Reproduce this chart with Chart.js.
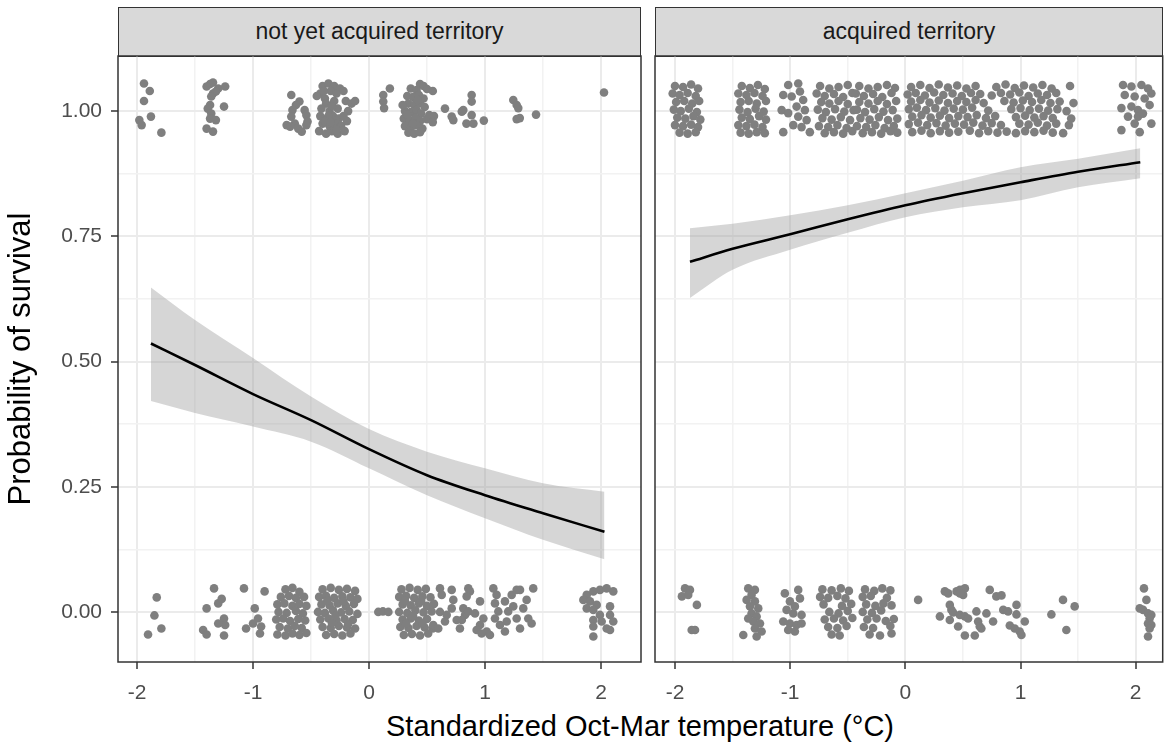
<!DOCTYPE html>
<html>
<head>
<meta charset="utf-8">
<script src="https://cdn.jsdelivr.net/npm/chart.js@4"></script>
<style>
    body { margin: 0; background: #fff; width: 1167px; height: 746px; position: relative; overflow: hidden; font-family: "Liberation Sans", Arial, sans-serif; }
    .strip { position: absolute; top: 7px; height: 50px; box-sizing: border-box; background: #d9d9d9; border: 1.5px solid #333; color: #1a1a1a; font-size: 23px; line-height: 47px; text-align: center; }
    .panel { position: absolute; top: 50px; height: 656px; }
    .xtitle { position: absolute; left: 140px; width: 1000px; top: 710px; font-size: 29px; line-height: 32px; text-align: center; color: #000; }
</style>
</head>
<body>
<div class="strip" style="left:118px;width:523px">not yet acquired territory</div>
<div class="strip" style="left:655px;width:508px">acquired territory</div>
<div class="panel" style="left:0;width:650px"><canvas id="graficoEsquerda"></canvas></div>
<div class="panel" style="left:649px;width:518px"><canvas id="graficoDireita"></canvas></div>
<div class="xtitle">Standardized Oct-Mar temperature (°C)</div>
<script>
const xMajor = [-2, -1, 0, 1, 2];
const xLabels = ['-2', '-1', '0', '1', '2'];
const xMinor = [-1.5, -0.5, 0.5, 1.5];
const yMajor = [0, 0.25, 0.5, 0.75, 1];
const yLabels = ['0.00', '0.25', '0.50', '0.75', '1.00'];
const yMinor = [0.125, 0.375, 0.625, 0.875];

// fitted curve + ribbon
const curveXLeft = [-1.88, -1.5, -1, -0.5, 0, 0.5, 1, 1.5, 2.03];
const fitLeft = [0.536, 0.493, 0.435, 0.383, 0.325, 0.273, 0.233, 0.197, 0.160];
const upperLeft = [0.648, 0.583, 0.507, 0.430, 0.365, 0.320, 0.287, 0.257, 0.240];
const lowerLeft = [0.421, 0.397, 0.370, 0.340, 0.287, 0.233, 0.187, 0.144, 0.105];

const curveXRight = [-1.87, -1.5, -1, -0.5, 0, 0.5, 1, 1.5, 2.04];
const fitRight = [0.699, 0.725, 0.754, 0.784, 0.812, 0.836, 0.858, 0.879, 0.898];
const upperRight = [0.766, 0.775, 0.792, 0.812, 0.836, 0.861, 0.888, 0.905, 0.926];
const lowerRight = [0.627, 0.683, 0.723, 0.757, 0.788, 0.808, 0.822, 0.848, 0.866];

// jittered observations [temperature, survival]
const survivedNotYet = [
    [-1.94,1.055],[-1.89,1.04],[-1.94,1.02],[-1.98,0.982],[-1.96,0.972],[-1.88,0.989],[-1.79,0.957],
    [-1.37,1.054],[-1.345,1.057],[-1.40,1.049],[-1.30,1.045],[-1.24,1.049],[-1.345,1.035],[-1.32,1.039],[-1.36,1.029],
    [-1.37,1.012],[-1.39,1.005],[-1.25,1.009],[-1.36,0.995],[-1.32,0.982],[-1.37,0.985],[-1.40,0.965],[-1.345,0.959],
    [-0.67,1.032],[-0.60,1.019],[-0.63,1.012],[-0.66,1.002],[-0.67,0.989],[-0.555,1.002],[-0.54,0.992],[-0.53,0.979],
    [-0.64,0.975],[-0.71,0.972],[-0.68,0.969],[-0.61,0.965],[-0.58,0.959],[-0.54,0.972],
    [-0.40,1.05],[-0.35,1.055],[-0.30,1.05],[-0.25,1.045],[-0.42,1.035],[-0.33,1.04],[-0.28,1.035],[-0.22,1.04],[-0.38,1.025],[-0.45,1.03],
    [-0.37,1.015],[-0.30,1.02],[-0.20,1.02],[-0.15,1.015],[-0.12,1.02],[-0.41,1.005],[-0.34,1.0],[-0.27,1.005],[-0.18,1.0],
    [-0.42,0.99],[-0.36,0.985],[-0.31,0.99],[-0.26,0.985],[-0.22,0.99],[-0.40,0.975],[-0.34,0.97],[-0.29,0.975],[-0.24,0.97],[-0.19,0.98],
    [-0.43,0.96],[-0.37,0.955],[-0.32,0.96],[-0.27,0.955],[-0.21,0.96],[-0.35,0.99],[-0.30,0.965],
    [-0.38,0.98],[-0.33,0.978],[-0.28,0.962],[-0.39,1.04],[-0.32,1.01],
    [0.123,1.032],[0.123,1.019],[0.13,1.006],[0.18,1.045],
    [0.44,1.054],[0.47,1.05],[0.36,1.045],[0.41,1.042],[0.50,1.044],[0.55,1.04],
    [0.33,1.03],[0.38,1.028],[0.43,1.032],[0.47,1.025],[0.34,1.015],[0.39,1.012],[0.44,1.016],[0.48,1.008],
    [0.31,1.0],[0.36,0.998],[0.41,1.002],[0.45,0.995],[0.52,0.992],[0.56,0.99],
    [0.30,0.985],[0.35,0.982],[0.40,0.986],[0.44,0.98],[0.50,0.984],[0.55,0.978],
    [0.31,0.97],[0.36,0.967],[0.41,0.972],[0.46,0.965],[0.34,0.957],[0.39,0.955],[0.44,0.958],[0.29,1.012],
    [0.38,0.975],[0.33,0.993],[0.42,1.022],
    [0.655,1.005],[0.713,0.989],[0.727,0.982],[0.80,0.999],[0.813,1.002],[0.885,1.032],[0.885,1.019],[0.885,0.992],
    [0.84,0.975],[0.90,0.975],[0.99,0.981],[1.244,1.022],[1.273,1.012],[1.287,1.006],[1.273,0.984],[1.30,0.986],[1.44,0.993],
    [2.026,1.037]
];

const diedNotYet = [
    [-1.83,0.029],[-1.85,-0.007],[-1.79,-0.033],[-1.905,-0.045],
    [-1.336,0.047],[-1.30,0.017],[-1.27,0.026],[-1.40,0.007],[-1.25,-0.013],[-1.24,-0.026],[-1.30,-0.023],[-1.43,-0.036],[-1.40,-0.045],[-1.25,-0.047],
    [-1.078,0.047],[-0.90,0.041],[-0.985,0.007],[-1.06,-0.033],[-1.0,-0.023],[-0.957,-0.013],[-0.93,-0.029],[-0.94,-0.043],
    [-0.72,0.045],[-0.66,0.048],[-0.60,0.04],[-0.76,0.03],[-0.69,0.032],[-0.63,0.028],[-0.56,0.03],
    [-0.79,0.015],[-0.73,0.017],[-0.66,0.012],[-0.60,0.016],[-0.54,0.012],[-0.78,0.0],[-0.71,-0.002],[-0.63,0.002],[-0.57,-0.003],
    [-0.80,-0.015],[-0.74,-0.013],[-0.68,-0.018],[-0.61,-0.014],[-0.55,-0.017],[-0.77,-0.03],[-0.70,-0.033],[-0.64,-0.028],[-0.58,-0.032],
    [-0.79,-0.045],[-0.72,-0.047],[-0.66,-0.043],[-0.60,-0.046],[-0.54,-0.042],
    [-0.40,0.045],[-0.33,0.048],[-0.26,0.044],[-0.19,0.046],[-0.12,0.042],
    [-0.43,0.03],[-0.37,0.032],[-0.30,0.028],[-0.23,0.031],[-0.16,0.029],[-0.10,0.026],
    [-0.41,0.015],[-0.34,0.013],[-0.27,0.017],[-0.20,0.012],[-0.13,0.016],
    [-0.44,0.0],[-0.38,-0.002],[-0.31,0.003],[-0.24,-0.001],[-0.17,0.001],[-0.10,-0.004],
    [-0.42,-0.015],[-0.35,-0.013],[-0.28,-0.017],[-0.21,-0.014],[-0.14,-0.016],
    [-0.40,-0.03],[-0.33,-0.032],[-0.26,-0.028],[-0.19,-0.031],[-0.12,-0.033],
    [-0.37,-0.046],[-0.30,-0.044],[-0.23,-0.047],[-0.16,-0.043],
    [-0.36,0.022],[-0.29,-0.008],[-0.22,0.021],[-0.32,-0.022],[-0.18,-0.024],
    [0.08,0.0],[0.12,0.001],[0.167,0.0],
    [0.28,0.045],[0.35,0.048],[0.42,0.044],[0.49,0.046],[0.26,0.03],[0.32,0.032],[0.39,0.028],[0.46,0.031],[0.53,0.029],
    [0.29,0.015],[0.36,0.013],[0.43,0.017],[0.50,0.012],[0.56,0.016],[0.26,0.0],[0.33,-0.002],[0.40,0.003],[0.47,-0.001],[0.54,0.001],
    [0.29,-0.015],[0.36,-0.013],[0.43,-0.017],[0.50,-0.014],[0.27,-0.03],[0.34,-0.032],[0.41,-0.028],[0.48,-0.031],[0.55,-0.033],
    [0.30,-0.046],[0.37,-0.044],[0.44,-0.047],[0.51,-0.043],
    [0.31,0.022],[0.38,-0.008],[0.45,0.022],[0.32,-0.023],[0.46,-0.023],
    [0.612,0.047],[0.627,0.034],[0.713,0.044],[0.727,0.024],[0.612,0.0],[0.67,-0.006],[0.713,0.007],[0.756,-0.016],
    [0.554,-0.026],[0.597,-0.033],[0.655,-0.019],[0.784,-0.033],[0.856,0.047],[0.87,0.041],[0.842,0.031],
    [0.813,0.007],[0.828,-0.006],[0.80,-0.016],[0.856,0.001],
    [0.957,0.021],[0.914,-0.003],[0.986,-0.013],[0.957,-0.026],[0.928,-0.036],[1.015,-0.039],[0.971,-0.043],[1.043,-0.046],
    [1.072,0.047],[1.10,0.034],[1.086,0.017],[1.115,0.001],[1.086,-0.013],[1.129,-0.026],[1.172,-0.039],[1.187,-0.019],
    [1.20,0.001],[1.172,0.021],[1.23,0.034],[1.273,0.044],[1.244,0.011],[1.273,-0.013],[1.302,-0.033],[1.33,0.007],
    [1.359,0.024],[1.373,-0.013],[1.402,-0.023],[1.416,0.047],[1.302,0.044],
    [1.877,0.034],[1.934,0.041],[1.991,0.044],[2.049,0.047],[2.106,0.041],[1.848,0.024],[1.905,0.021],[1.963,0.014],
    [1.877,0.007],[1.934,0.004],[2.078,0.011],[1.991,-0.006],[2.078,-0.006],[1.934,-0.016],[2.006,-0.019],[2.106,-0.019],
    [1.934,-0.029],[2.049,-0.033],[2.078,-0.036],[1.934,-0.049]
];

const survivedAcquired = [
    [-2.0,1.05],[-1.93,1.048],[-1.86,1.053],[-1.80,1.045],[-2.02,1.035],[-1.96,1.032],[-1.89,1.036],[-1.82,1.03],
    [-1.99,1.018],[-1.92,1.02],[-1.85,1.015],[-1.79,1.02],[-2.01,1.003],[-1.95,1.0],[-1.88,1.005],[-1.81,0.998],
    [-1.98,0.987],[-1.91,0.985],[-1.84,0.99],[-1.78,0.983],[-2.0,0.972],[-1.93,0.97],[-1.86,0.973],[-1.80,0.968],
    [-1.96,0.957],[-1.89,0.955],[-1.82,0.958],
    [-1.42,1.05],[-1.35,1.046],[-1.28,1.052],[-1.22,1.044],[-1.45,1.035],[-1.38,1.032],[-1.31,1.036],[-1.24,1.03],
    [-1.43,1.018],[-1.36,1.02],[-1.29,1.015],[-1.21,1.02],[-1.44,1.003],[-1.37,0.998],[-1.30,1.005],[-1.23,0.999],
    [-1.42,0.987],[-1.35,0.984],[-1.27,0.99],[-1.21,0.983],[-1.45,0.972],[-1.38,0.97],[-1.31,0.973],[-1.24,0.968],
    [-1.43,0.957],[-1.36,0.955],[-1.29,0.958],[-1.22,0.956],
    [-1.017,1.052],[-0.93,1.055],[-0.915,1.039],[-1.06,1.032],[-0.987,1.029],[-0.887,1.022],[-1.074,1.002],[-1.017,0.996],
    [-0.944,1.009],[-0.872,1.002],[-0.93,0.989],[-0.857,0.982],[-1.06,0.958],[-0.973,0.972],[-0.829,0.958],[-0.901,0.968],
    [-0.74,1.05],[-0.66,1.045],[-0.58,1.048],[-0.50,1.052],[-0.77,1.035],[-0.70,1.03],[-0.62,1.034],[-0.54,1.028],[-0.46,1.036],
    [-0.73,1.018],[-0.66,1.015],[-0.58,1.02],[-0.50,1.014],[-0.76,1.003],[-0.69,0.998],[-0.61,1.004],[-0.53,0.999],[-0.45,1.002],
    [-0.72,0.986],[-0.64,0.983],[-0.56,0.988],[-0.48,0.982],[-0.75,0.97],[-0.67,0.968],[-0.59,0.972],[-0.51,0.966],
    [-0.70,0.956],[-0.62,0.958],[-0.54,0.955],[-0.46,0.96],
    [-0.40,1.05],[-0.32,1.045],[-0.24,1.048],[-0.16,1.052],[-0.09,1.046],[-0.43,1.035],[-0.36,1.03],[-0.28,1.034],[-0.20,1.028],[-0.12,1.036],
    [-0.40,1.018],[-0.32,1.015],[-0.24,1.02],[-0.16,1.014],[-0.08,1.02],[-0.42,1.003],[-0.35,0.998],[-0.27,1.004],[-0.19,0.999],[-0.11,1.002],
    [-0.39,0.986],[-0.31,0.983],[-0.23,0.988],[-0.15,0.982],[-0.07,0.985],[-0.42,0.97],[-0.34,0.968],[-0.26,0.972],[-0.18,0.966],[-0.10,0.97],
    [-0.37,0.956],[-0.29,0.958],[-0.21,0.955],[-0.13,0.96],[-0.07,0.957],
    [0.05,1.048],[0.13,1.052],[0.21,1.046],[0.29,1.053],[0.37,1.047],[0.45,1.051],[0.53,1.045],[0.61,1.05],
    [0.79,1.048],[0.87,1.053],[0.95,1.046],[1.03,1.051],[1.11,1.047],[1.19,1.052],[1.27,1.045],[1.43,1.05],
    [0.02,1.033],[0.09,1.036],[0.17,1.031],[0.25,1.037],[0.33,1.032],[0.41,1.035],[0.49,1.03],[0.57,1.036],[0.65,1.034],
    [0.75,1.031],[0.83,1.036],[0.91,1.033],[0.99,1.037],[1.07,1.03],[1.15,1.035],[1.23,1.032],[1.31,1.036],
    [0.05,1.019],[0.13,1.022],[0.21,1.017],[0.29,1.021],[0.37,1.016],[0.45,1.02],[0.53,1.018],[0.61,1.022],[0.68,1.016],
    [0.86,1.02],[0.94,1.017],[1.02,1.021],[1.10,1.018],[1.18,1.022],[1.26,1.016],[1.34,1.019],[1.46,1.016],
    [0.03,1.004],[0.10,1.007],[0.18,1.002],[0.26,1.006],[0.34,1.001],[0.42,1.005],[0.50,1.003],[0.58,1.007],
    [0.72,1.001],[0.92,1.004],[1.00,1.006],[1.08,1.002],[1.16,1.005],[1.24,1.001],[1.32,1.004],[1.40,1.0],
    [0.06,0.989],[0.14,0.992],[0.22,0.987],[0.30,0.991],[0.38,0.986],[0.46,0.99],[0.54,0.988],[0.62,0.992],
    [0.70,0.986],[0.78,0.99],[0.96,0.988],[1.04,0.991],[1.12,0.987],[1.20,0.99],[1.28,0.986],[1.44,0.985],
    [0.03,0.974],[0.11,0.977],[0.19,0.972],[0.27,0.976],[0.35,0.971],[0.43,0.975],[0.51,0.973],[0.59,0.977],[0.67,0.971],
    [0.75,0.976],[0.83,0.972],[0.99,0.975],[1.07,0.973],[1.15,0.977],[1.23,0.971],[1.31,0.975],[1.42,0.972],
    [0.06,0.958],[0.14,0.961],[0.22,0.956],[0.30,0.96],[0.38,0.957],[0.46,0.959],[0.56,0.961],[0.64,0.956],[0.72,0.96],
    [0.80,0.957],[0.88,0.959],[0.96,0.956],[1.04,0.96],[1.12,0.958],[1.20,0.961],[1.28,0.957],[1.37,0.956],
    [1.89,1.052],[1.963,1.049],[2.05,1.052],[2.107,1.045],[2.136,1.035],[1.905,1.032],[1.991,1.029],[2.078,1.025],
    [1.876,1.006],[1.963,1.009],[2.02,1.002],[2.121,1.012],[1.933,0.989],[2.02,0.989],[2.063,0.995],[1.991,0.975],
    [2.136,0.975],[1.876,0.962],[2.035,0.958]
];

const diedAcquired = [
    [-1.913,0.047],[-1.87,0.044],[-1.94,0.031],[-1.885,0.034],[-1.81,0.014],[-1.855,-0.036],[-1.826,-0.036],
    [-1.364,0.047],[-1.306,0.044],[-1.335,0.034],[-1.378,0.024],[-1.306,0.021],[-1.349,0.011],[-1.277,0.007],[-1.335,-0.003],
    [-1.291,-0.009],[-1.32,-0.019],[-1.262,-0.023],[-1.306,-0.033],[-1.248,-0.039],[-1.291,-0.049],[-1.407,-0.046],[-1.364,-0.013],
    [-1.046,0.037],[-0.93,0.044],[-0.915,0.027],[-1.002,0.021],[-0.959,0.011],[-1.031,0.004],[-0.973,-0.003],
    [-0.901,-0.006],[-1.06,-0.019],[-1.002,-0.023],[-0.944,-0.026],[-0.901,-0.023],[-1.017,-0.036],[-0.959,-0.039],
    [-0.72,0.045],[-0.64,0.043],[-0.56,0.047],[-0.49,0.042],[-0.74,0.03],[-0.67,0.028],[-0.59,0.032],[-0.52,0.027],
    [-0.71,0.015],[-0.55,0.012],[-0.47,0.016],[-0.66,0.0],[-0.58,-0.003],[-0.50,0.002],
    [-0.70,-0.015],[-0.62,-0.013],[-0.54,-0.017],[-0.46,-0.012],[-0.67,-0.03],[-0.59,-0.032],[-0.51,-0.028],[-0.64,-0.045],[-0.57,-0.047],
    [-0.35,0.045],[-0.27,0.042],[-0.20,0.047],[-0.13,0.043],[-0.37,0.03],[-0.30,0.032],[-0.16,0.028],
    [-0.34,0.015],[-0.26,0.012],[-0.19,0.017],[-0.12,0.013],[-0.37,0.0],[-0.29,-0.002],[-0.21,0.003],
    [-0.33,-0.015],[-0.25,-0.013],[-0.17,-0.018],[-0.10,-0.014],[-0.36,-0.03],[-0.28,-0.032],[-0.13,-0.028],
    [-0.31,-0.045],[-0.22,-0.047],[-0.12,-0.043],
    [0.111,0.024],[0.343,0.041],[0.372,0.037],[0.445,0.041],[0.474,0.044],[0.517,0.047],[0.502,0.034],[0.474,0.037],
    [0.386,0.014],[0.40,0.004],[0.415,-0.001],[0.30,-0.009],[0.386,-0.016],[0.458,-0.029],[0.473,-0.006],[0.517,-0.009],
    [0.545,-0.013],[0.617,0.001],[0.632,-0.019],[0.646,-0.029],[0.66,-0.033],[0.704,-0.003],[0.762,-0.019],[0.517,-0.047],
    [0.603,-0.047],[0.733,0.044],[0.79,0.031],[0.835,0.033],[0.85,0.004],[0.892,0.001],[0.965,0.014],[0.965,-0.005],
    [1.037,-0.019],[0.907,-0.027],[0.95,-0.033],[0.993,-0.039],[1.008,-0.046],[1.268,-0.005],[1.369,0.024],[1.47,0.011],
    [1.398,-0.036],[2.072,0.047],[2.093,0.024],[2.035,0.007],[2.064,0.004],[2.107,-0.003],[2.136,-0.006],[2.121,-0.013],
    [2.107,-0.023],[2.136,-0.026],[2.121,-0.033],[2.107,-0.049]
];

const fonte = '"Liberation Sans", Arial, sans-serif';

const panelBorder = {
    id: 'panelBorder',
    afterDraw(chart) {
        const { ctx, chartArea: a } = chart;
        ctx.save();
        ctx.strokeStyle = '#333333';
        ctx.lineWidth = 1.5;
        ctx.strokeRect(a.left, a.top, a.right - a.left, a.bottom - a.top);
        ctx.restore();
    }
};

function toPoints(xs, ys) {
    return xs.map((x, i) => ({ x, y: ys[i] }));
}

function axisTicks(major, minor) {
    return [...major, ...minor].sort((a, b) => a - b).map(value => ({ value }));
}

function gridOptions(major) {
    return {
        color: ctx => (ctx.tick && major.includes(ctx.tick.value)) ? '#ebebeb' : '#f2f2f2',
        lineWidth: ctx => (ctx.tick && major.includes(ctx.tick.value)) ? 2 : 1.5,
        tickColor: ctx => (ctx.tick && major.includes(ctx.tick.value)) ? '#333333' : 'rgba(0,0,0,0)',
        tickLength: 7,
        tickWidth: 1.5
    };
}

function createPanel(canvasId, opts) {
    const ctx = document.getElementById(canvasId).getContext('2d');
    return new Chart(ctx, {
        type: 'scatter',
        data: {
            datasets: [
                {
                    type: 'line',
                    data: toPoints(opts.curveX, opts.fit),
                    borderColor: '#000000',
                    borderWidth: 2.6,
                    pointRadius: 0,
                    cubicInterpolationMode: 'monotone',
                    fill: false
                },
                {
                    type: 'line',
                    data: toPoints(opts.curveX, opts.upper),
                    borderWidth: 0,
                    borderColor: 'rgba(0,0,0,0)',
                    backgroundColor: 'rgba(153,153,153,0.4)',
                    pointRadius: 0,
                    cubicInterpolationMode: 'monotone',
                    fill: '+1'
                },
                {
                    type: 'line',
                    data: toPoints(opts.curveX, opts.lower),
                    borderWidth: 0,
                    borderColor: 'rgba(0,0,0,0)',
                    pointRadius: 0,
                    cubicInterpolationMode: 'monotone',
                    fill: false
                },
                {
                    data: opts.alive.map(p => ({ x: p[0], y: p[1] })),
                    backgroundColor: '#7f7f7f',
                    borderWidth: 0,
                    pointRadius: 4.3
                },
                {
                    data: opts.dead.map(p => ({ x: p[0], y: p[1] })),
                    backgroundColor: '#7f7f7f',
                    borderWidth: 0,
                    pointRadius: 4.3
                }
            ]
        },
        options: {
            responsive: true,
            maintainAspectRatio: false,
            animation: false,
            layout: { padding: { top: 6, right: opts.padRight, left: 0, bottom: 0 } },
            plugins: {
                legend: { display: false },
                tooltip: { enabled: false }
            },
            scales: {
                x: {
                    type: 'linear',
                    min: opts.xMin,
                    max: opts.xMax,
                    afterBuildTicks: scale => { scale.ticks = axisTicks(xMajor, xMinor); },
                    afterFit: scale => {
                        scale.height = 44;
                        scale.paddingLeft = 0;
                        scale.paddingRight = 0;
                    },
                    border: { display: false },
                    grid: gridOptions(xMajor),
                    ticks: {
                        autoSkip: false,
                        maxRotation: 0,
                        padding: 12,
                        color: '#4d4d4d',
                        font: { family: fonte, size: 21 },
                        callback: value => {
                            const i = xMajor.indexOf(value);
                            return i >= 0 ? xLabels[i] : '';
                        }
                    }
                },
                y: {
                    type: 'linear',
                    min: -0.1,
                    max: 1.11,
                    afterBuildTicks: scale => { scale.ticks = axisTicks(yMajor, yMinor); },
                    afterFit: scale => {
                        scale.width = opts.yWidth;
                        scale.paddingTop = 0;
                        scale.paddingBottom = 0;
                    },
                    border: { display: false },
                    grid: Object.assign(gridOptions(yMajor), { drawTicks: opts.showY }),
                    title: {
                        display: opts.showY,
                        text: 'Probability of survival',
                        color: '#000000',
                        font: { family: fonte, size: 31 },
                        padding: { top: 3, bottom: 0 }
                    },
                    ticks: {
                        display: opts.showY,
                        autoSkip: false,
                        padding: 9,
                        color: '#4d4d4d',
                        font: { family: fonte, size: 21 },
                        callback: value => {
                            const i = yMajor.indexOf(value);
                            return i >= 0 ? yLabels[i] : '';
                        }
                    }
                }
            }
        },
        plugins: [panelBorder]
    });
}

createPanel('graficoEsquerda', {
    curveX: curveXLeft, fit: fitLeft, upper: upperLeft, lower: lowerLeft,
    alive: survivedNotYet, dead: diedNotYet,
    xMin: -2.164, xMax: 2.345, yWidth: 118, padRight: 9, showY: true
});

createPanel('graficoDireita', {
    curveX: curveXRight, fit: fitRight, upper: upperRight, lower: lowerRight,
    alive: survivedAcquired, dead: diedAcquired,
    xMin: -2.1735, xMax: 2.2345, yWidth: 6, padRight: 4, showY: false
});
</script>
</body>
</html>
